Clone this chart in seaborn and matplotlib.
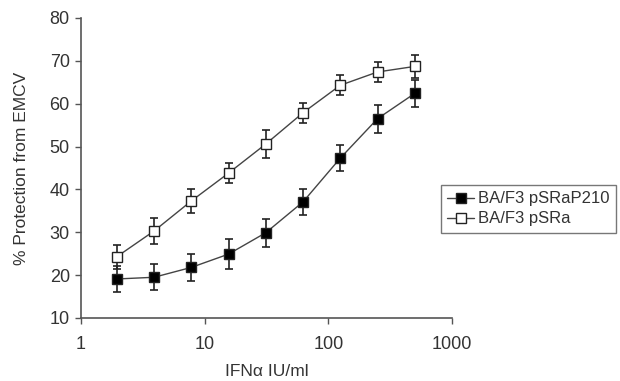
import matplotlib
matplotlib.use("Agg")
import matplotlib.pyplot as plt
import seaborn as sns
import pandas as pd
from matplotlib.lines import Line2D

# Data
ifn_dose = [1.95, 3.9, 7.8, 15.6, 31.25, 62.5, 125, 250, 500]
p210_mean = [19.1, 19.5, 21.8, 24.9, 29.9, 37.1, 47.3, 56.5, 62.4]
p210_err = [3.0, 3.0, 3.1, 3.5, 3.3, 3.0, 3.0, 3.3, 3.1]
psra_mean = [24.3, 30.3, 37.3, 43.8, 50.6, 57.9, 64.3, 67.4, 68.7]
psra_err = [2.8, 3.0, 2.7, 2.4, 3.2, 2.3, 2.3, 2.3, 2.7]
series_names = ["BA/F3 pSRaP210", "BA/F3 pSRa"]
y_ticks = [10, 20, 30, 40, 50, 60, 70, 80]
x_ticks = [1, 10, 100, 1000]

sns.set_theme(style="white")
plt.rcParams['font.family'] = ['Liberation Sans', 'DejaVu Sans']

df = pd.DataFrame({
    "dose": ifn_dose * 2,
    "val": p210_mean + psra_mean,
    "err": p210_err + psra_err,
    "series": [series_names[0]] * len(ifn_dose) + [series_names[1]] * len(ifn_dose),
})

fig = plt.figure(figsize=(6.2, 3.81), dpi=100)
ax = fig.add_axes([0.1306, 0.1654, 0.729 - 0.1306, 0.9528 - 0.1654])

txt = "#333333"
line_c = "#444444"
styles = {series_names[0]: dict(mfc="black"), series_names[1]: dict(mfc="white")}

for name in series_names:
    sub = df[df.series == name]
    ax.errorbar(sub.dose, sub.val, yerr=sub.err, fmt="none", ecolor="#222222",
                elinewidth=1.2, capsize=2.8, capthick=1.2, zorder=2)
    sns.lineplot(data=sub, x="dose", y="val", ax=ax, color=line_c, lw=1.0,
                 marker="s", markersize=7.5, markerfacecolor=styles[name]["mfc"],
                 markeredgecolor="#222222", markeredgewidth=1.0, zorder=3,
                 legend=False)

ax.set_xscale("log")
ax.set_xlim(1, 1000)
ax.set_ylim(10, 80)
ax.set_yticks(y_ticks)
ax.set_xticks(x_ticks)
ax.set_xticklabels([str(v) for v in x_ticks])
ax.xaxis.set_minor_locator(matplotlib.ticker.NullLocator())
ax.tick_params(axis="both", which="major", direction="out", length=4, width=1,
               color="#555555", labelsize=13, labelcolor=txt, pad=4,
               bottom=True, left=True)
ax.tick_params(axis="x", pad=9)
for side in ["top", "right"]:
    ax.spines[side].set_visible(False)
for side in ["left", "bottom"]:
    ax.spines[side].set_color("#555555")
    ax.spines[side].set_linewidth(1.2)

ax.set_xlabel("IFNα IU/ml", fontsize=12.5, color=txt, labelpad=8)
ax.set_ylabel("% Protection from EMCV", fontsize=12.5, color=txt, labelpad=15)

handles = [
    Line2D([], [], color=line_c, lw=1.0, marker="s", markersize=7,
           markerfacecolor="black", markeredgecolor="#222222"),
    Line2D([], [], color=line_c, lw=1.0, marker="s", markersize=7,
           markerfacecolor="white", markeredgecolor="#222222"),
]
leg = fig.legend(handles, series_names, loc="upper left",
                 bbox_to_anchor=(0.711, 0.515), fontsize=12, frameon=True,
                 fancybox=False, handlelength=1.6, handletextpad=0.25,
                 borderpad=0.4, labelspacing=0.3, borderaxespad=0)
leg.get_frame().set_edgecolor("#555555")
leg.get_frame().set_linewidth(1.0)
for t in leg.get_texts():
    t.set_color(txt)

fig.savefig("out.png", dpi=100)
